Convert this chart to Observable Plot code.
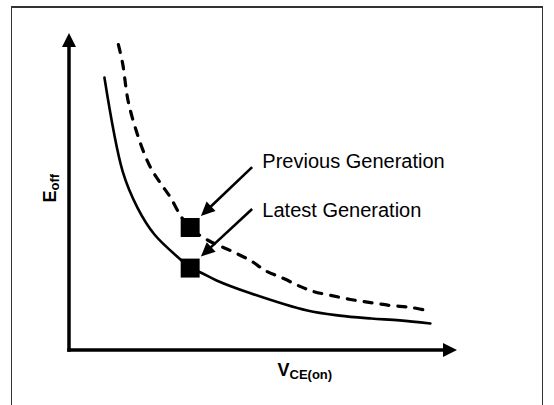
<!DOCTYPE html>
<html>
<head>
<meta charset="utf-8">
<script src="https://cdn.jsdelivr.net/npm/d3@7"></script>
<script src="https://cdn.jsdelivr.net/npm/@observablehq/plot@0.6"></script>
<style>
  html, body { margin: 0; padding: 0; background: #fff; overflow: hidden; }
  #wrap { position: relative; width: 554px; height: 405px; }
  #border {
    position: absolute; left: 11px; top: 6px; width: 532px; height: 420px;
    box-sizing: border-box; border: 1.5px solid #333; border-top-width: 2px;
    pointer-events: none;
  }
  svg { display: block; }
</style>
</head>
<body>
<div id="wrap"><div id="border"></div></div>
<script>
// ---- Data (arbitrary units: V_CE(on) on x, E_off on y, 0..10) ----
const latestX = [0.90, 1.37, 1.75, 2.19, 2.86, 3.11, 3.38, 3.79, 4.61, 6.13, 6.96, 7.78, 8.51, 9.30];
const latestY = [8.61, 5.65, 4.51, 3.66, 2.87, 2.60, 2.46, 2.21, 1.83, 1.26, 1.10, 1.01, 0.95, 0.85];

const previousX = [1.26, 1.37, 1.52, 1.83, 2.09, 2.35, 2.60, 2.86, 3.09, 3.58, 4.15, 4.66, 5.05, 5.52, 5.95, 6.29, 6.73, 7.24, 7.76, 8.27, 8.79, 9.23];
const previousY = [9.65, 9.05, 7.82, 6.53, 5.77, 5.27, 4.83, 4.26, 3.88, 3.47, 3.15, 2.84, 2.52, 2.27, 2.02, 1.86, 1.74, 1.61, 1.51, 1.42, 1.36, 1.26];

const markerNames = ["Previous Generation", "Latest Generation"];
const markerX = [3.11, 3.11];
const markerY = [3.88, 2.60];

const labelX = [4.97, 4.97];
const labelY = [5.77, 4.20];
const pointerStartX = [4.72, 4.72];
const pointerStartY = [5.77, 4.45];

const axisDomainX = [0, 10];
const axisDomainY = [0, 10];
const xTitle = ["V", "CE(on)"];
const yTitle = ["E", "off"];

// ---- Tables built from the arrays ----
const latest = latestX.map((x, i) => ({x, y: latestY[i]}));
const previous = previousX.map((x, i) => ({x, y: previousY[i]}));
const markers = markerNames.map((name, i) => ({name, x: markerX[i], y: markerY[i]}));
const labels = markerNames.map((name, i) => ({name, x: labelX[i], y: labelY[i]}));
const pointers = markerNames.map((name, i) => ({
  x1: pointerStartX[i], y1: pointerStartY[i], x2: markerX[i] + 0.29, y2: markerY[i] + 0.35
}));
const axes = [
  {x1: axisDomainX[0], y1: axisDomainY[0], x2: axisDomainX[1], y2: axisDomainY[0]},
  {x1: axisDomainX[0], y1: axisDomainY[0], x2: axisDomainX[0], y2: axisDomainY[1]}
];

// Filled-head arrow render mark
function arrows(data, {len, half, sw, cap}) {
  return (index, scales) => {
    const g = d3.create("svg:g");
    for (const d of data) {
      const x1 = scales.x(d.x1), y1 = scales.y(d.y1), x2 = scales.x(d.x2), y2 = scales.y(d.y2);
      const dx = x2 - x1, dy = y2 - y1, L = Math.hypot(dx, dy), ux = dx / L, uy = dy / L;
      const bx = x2 - ux * len, by = y2 - uy * len;
      g.append("line")
        .attr("x1", x1).attr("y1", y1).attr("x2", bx + ux).attr("y2", by + uy)
        .attr("stroke", "black").attr("stroke-width", sw).attr("stroke-linecap", cap);
      g.append("path")
        .attr("d", `M${x2},${y2}L${bx - uy * half},${by + ux * half}L${bx + uy * half},${by - ux * half}Z`)
        .attr("fill", "black");
    }
    return g.node();
  };
}

const font = "'Liberation Sans', Arial, Helvetica, sans-serif";

const chart = Plot.plot({
  width: 554,
  height: 405,
  marginLeft: 69,
  marginRight: 97,
  marginTop: 33,
  marginBottom: 55,
  x: {domain: axisDomainX, axis: null},
  y: {domain: axisDomainY, axis: null},
  style: {fontFamily: font, background: "transparent", overflow: "visible"},
  marks: [
    arrows(axes, {len: 14, half: 7, sw: 3.5, cap: "square"}),
    Plot.line(previous, {x: "x", y: "y", stroke: "black", strokeWidth: 3.2, strokeDasharray: "8,9", curve: "catmull-rom"}),
    Plot.line(latest, {x: "x", y: "y", stroke: "black", strokeWidth: 2.6, curve: "catmull-rom"}),
    Plot.dot(markers, {x: "x", y: "y", symbol: "square", r: 10.7, fill: "black", stroke: null}),
    arrows(pointers, {len: 14, half: 6.5, sw: 2.6, cap: "butt"}),
    Plot.text(labels, {x: "x", y: "y", text: "name", textAnchor: "start", lineAnchor: "bottom", fontSize: 20, fill: "black"}),
    Plot.text([xTitle[0]], {frameAnchor: "bottom", textAnchor: "start", lineAnchor: "bottom", dx: 14, dy: 25, fontSize: 18, fontWeight: "bold", fill: "black"}),
    Plot.text([xTitle[1]], {frameAnchor: "bottom", textAnchor: "start", lineAnchor: "bottom", dx: 26, dy: 28, fontSize: 13, fontWeight: "bold", fill: "black"}),
    Plot.text([yTitle[0]], {frameAnchor: "left", rotate: -90, textAnchor: "start", lineAnchor: "bottom", dx: -14, dy: 10.5, fontSize: 18, fontWeight: "bold", fill: "black"}),
    Plot.text([yTitle[1]], {frameAnchor: "left", rotate: -90, textAnchor: "start", lineAnchor: "bottom", dx: -11, dy: -1.5, fontSize: 13, fontWeight: "bold", fill: "black"})
  ]
});

document.getElementById("wrap").insertBefore(chart, document.getElementById("border"));
</script>
</body>
</html>
